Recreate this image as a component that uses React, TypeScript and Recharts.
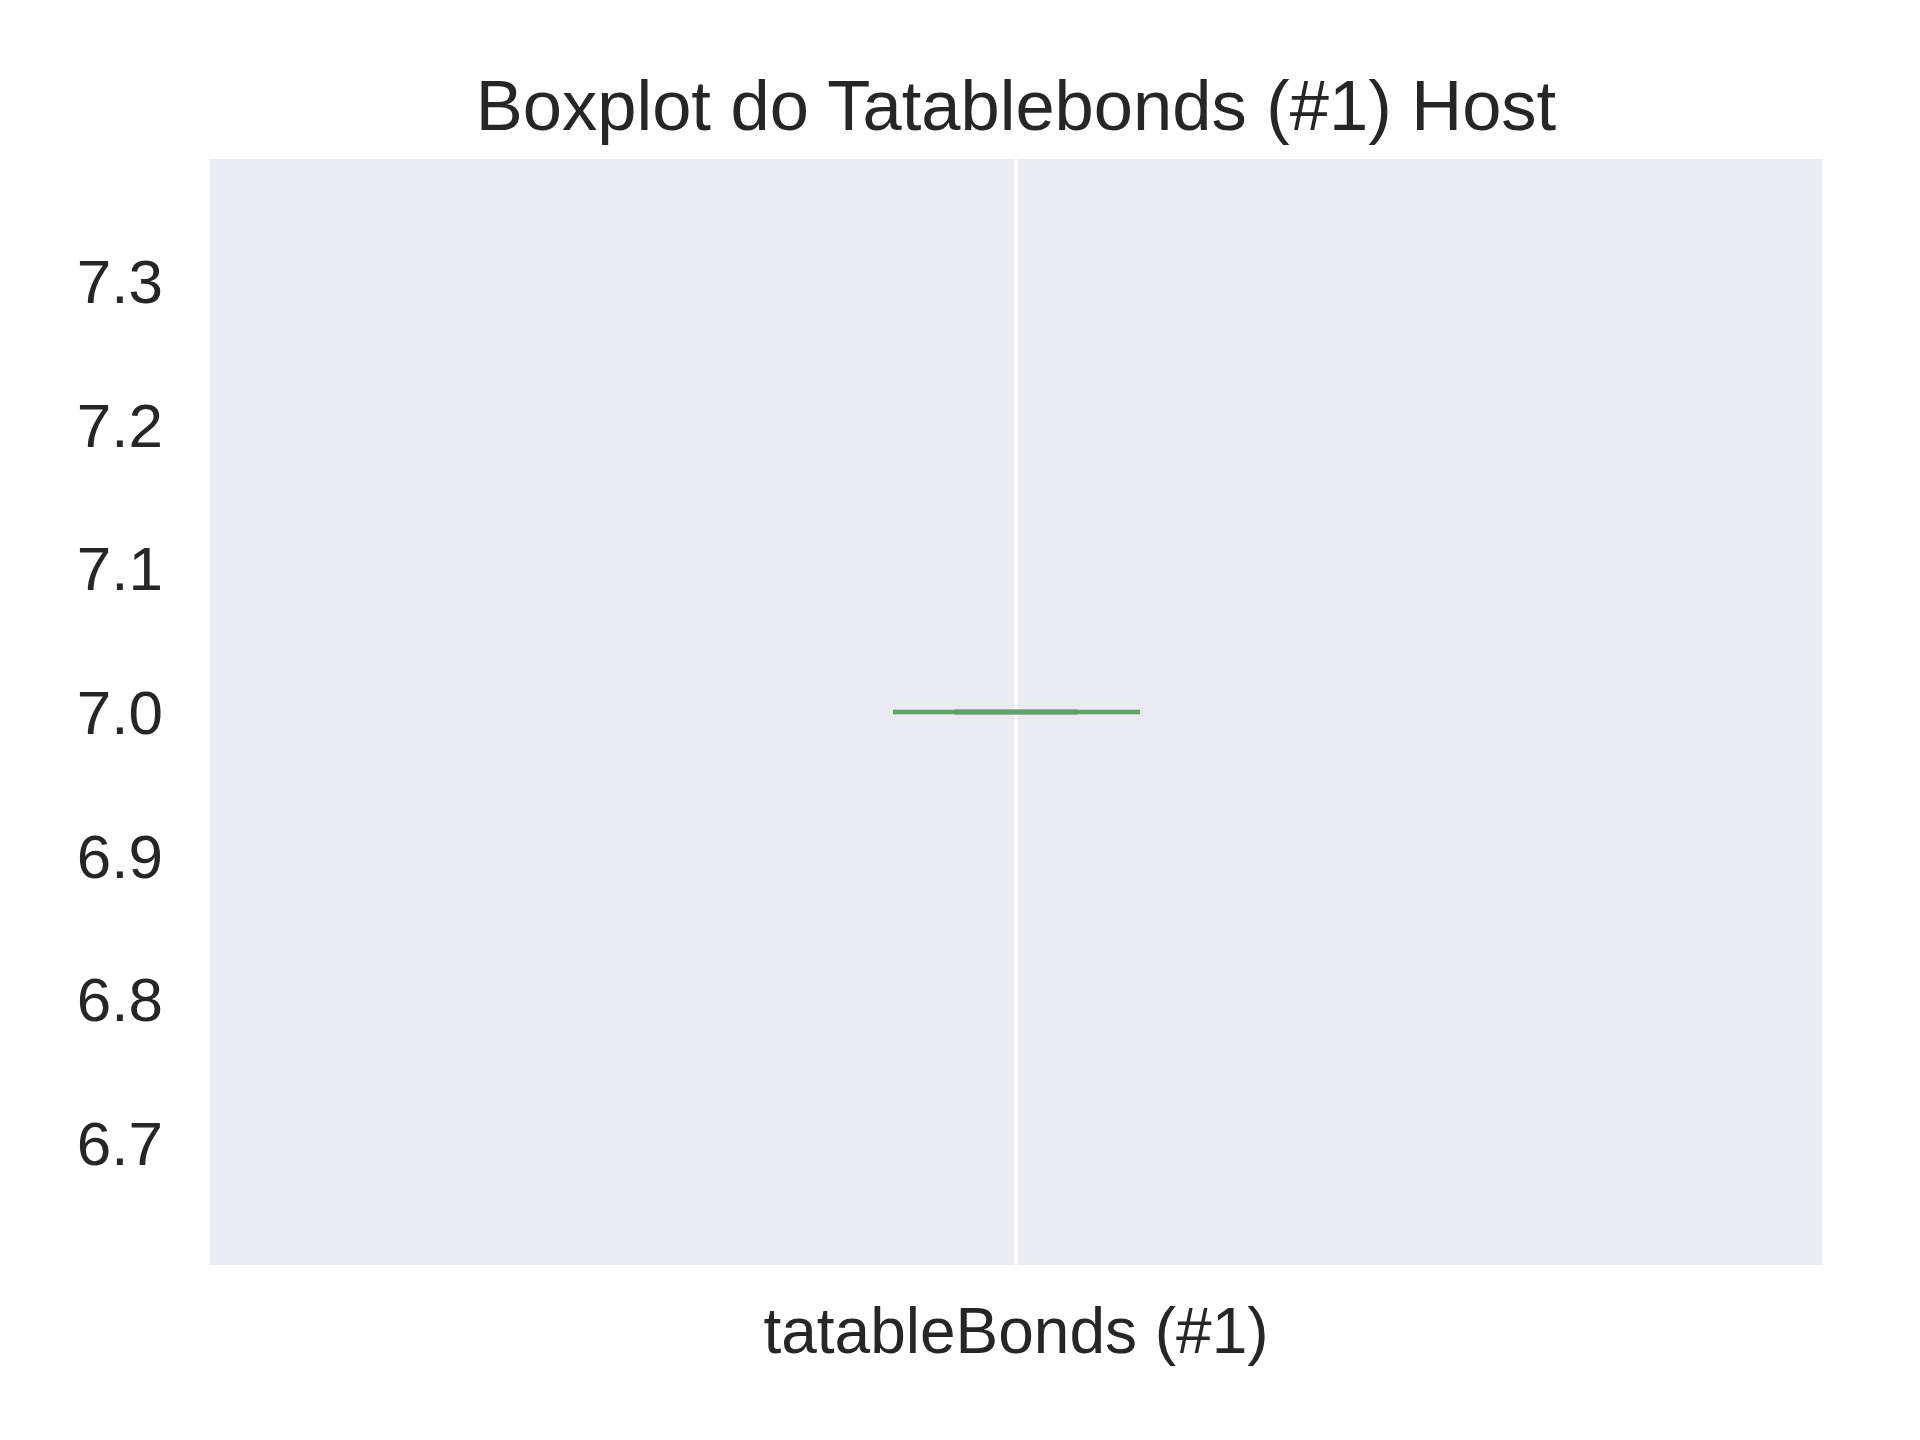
import { ComposedChart, Bar, XAxis, YAxis, CartesianGrid } from 'recharts'

const CATEGORIES = ['tatableBonds (#1)']
const MINS = [7]
const Q1S = [7]
const MEDIANS = [7]
const Q3S = [7]
const MAXS = [7]
const Y_TICKS = [6.7, 6.8, 6.9, 7.0, 7.1, 7.2, 7.3]
const Y_DOMAIN: [number, number] = [6.615, 7.385]

const TITLE = 'Boxplot do Tatablebonds (#1) Host'
const FONT = '"Liberation Sans", Arial, Helvetica, sans-serif'
const TEXT = '#262626'

const data = CATEGORIES.map((name, i) => ({
  name,
  range: [MINS[i], MAXS[i]],
  min: MINS[i],
  q1: Q1S[i],
  median: MEDIANS[i],
  q3: Q3S[i],
  max: MAXS[i],
}))

// draws whiskers, caps, box and median inside the [min, max] range bar
function BoxShape(props: any) {
  const { x, y, width, height, payload } = props
  const top = height < 0 ? y + height : y
  const h = Math.abs(height || 0)
  const { min, q1, median, q3, max } = payload
  const px = (v: number) => (max > min ? top + (h * (max - v)) / (max - min) : top)
  const cx = x + width / 2
  const capW = width / 4
  const yQ1 = px(q1)
  const yQ3 = px(q3)
  const yMed = px(median)
  const yMin = px(min)
  const yMax = px(max)
  return (
    <g>
      <line x1={cx} x2={cx} y1={yQ3} y2={yMax} stroke="#999999" strokeWidth={5} />
      <line x1={cx} x2={cx} y1={yQ1} y2={yMin} stroke="#999999" strokeWidth={5} />
      <path
        d={`M${x},${yQ3} H${x + width} V${yQ1} H${x} Z`}
        fill="none"
        stroke="#b4b4b8"
        strokeWidth={5}
      />
      <line x1={cx - capW} x2={cx + capW} y1={yMax} y2={yMax} stroke="#9c9c9c" strokeWidth={5} />
      <line x1={cx - capW} x2={cx + capW} y1={yMin} y2={yMin} stroke="#9c9c9c" strokeWidth={5} />
      <line x1={x} x2={x + width} y1={yMed} y2={yMed} stroke="#55a868" strokeWidth={4} />
    </g>
  )
}

export default function App() {
  return (
    <div style={{ position: 'absolute', left: 0, top: 0, width: 1920, height: 1440, background: '#fff', fontFamily: FONT }}>
      <div
        style={{
          position: 'absolute',
          left: 208,
          width: 1616,
          top: 71,
          fontSize: 70.5,
          lineHeight: '70.5px',
          textAlign: 'center',
          color: TEXT,
          whiteSpace: 'nowrap',
        }}
      >
        {TITLE}
      </div>
      <ComposedChart
        width={1920}
        height={1440}
        data={data}
        margin={{ top: 159, right: 96, bottom: 0, left: 108 }}
        style={{ fontFamily: FONT }}
      >
        <CartesianGrid horizontal={false} fill="#eaeaf2" stroke="#ffffff" strokeWidth={3.5} fillOpacity={1} />
        <XAxis
          dataKey="name"
          type="category"
          height={175}
          axisLine={false}
          tickLine={false}
          tickSize={0}
          tickMargin={43}
          tick={{ fontSize: 64, fill: TEXT, fontFamily: FONT }}
        />
        <YAxis
          type="number"
          width={100}
          domain={Y_DOMAIN}
          ticks={Y_TICKS}
          allowDataOverflow
          axisLine={false}
          tickLine={false}
          tickSize={0}
          tickMargin={45}
          tickFormatter={(v: number) => v.toFixed(1)}
          tick={{ fontSize: 62, fill: TEXT, fontFamily: FONT }}
        />
        <Bar dataKey="range" barSize={247} shape={BoxShape} isAnimationActive={false} />
      </ComposedChart>
    </div>
  )
}
